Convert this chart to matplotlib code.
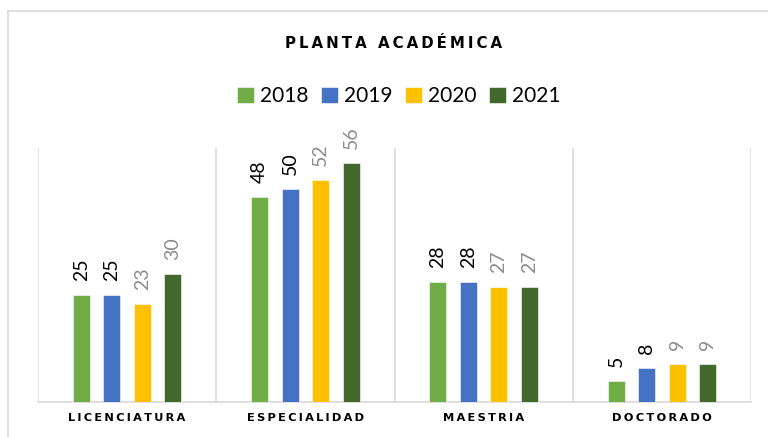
import matplotlib
matplotlib.use("Agg")
import matplotlib.pyplot as plt
import numpy as np
from matplotlib.patches import Rectangle

categories = ["LICENCIATURA", "ESPECIALIDAD", "MAESTRIA", "DOCTORADO"]
years = ["2018", "2019", "2020", "2021"]
v2018 = [25, 48, 28, 5]
v2019 = [25, 50, 28, 8]
v2020 = [23, 52, 27, 9]
v2021 = [30, 56, 27, 9]
series = [v2018, v2019, v2020, v2021]

COLORS = ["#70AD47", "#4472C4", "#FFC000", "#43682B"]
LABEL_COLORS = ["#000000", "#000000", "#8C8C8C", "#8C8C8C"]
GRID = "#D9D9D9"
FONT = "Lato"
THIN = "\u2009"


def spaced(s):
    # letter-spaced caps, like the original chart's tracking
    return (THIN + " " + THIN).join(THIN.join(w) for w in s.split(" "))


fig = plt.figure(figsize=(7.68, 4.37), dpi=100)
fig.patch.set_facecolor("white")
fig.add_artist(Rectangle((8 / 768, -0.1), 1.2, 1 - 11 / 437 + 0.1,
                         transform=fig.transFigure, fill=False,
                         edgecolor=GRID, linewidth=1.2))

ax = fig.add_axes([38 / 768, 1 - 402 / 437, (751 - 38) / 768, (402 - 148) / 437])
x = np.arange(len(categories))
width, step = 0.096, 0.171
for i, (vals, year) in enumerate(zip(series, years)):
    pos = x + (i - 1.5) * step
    bars = ax.bar(pos, vals, width, color=COLORS[i], label=year,
                  edgecolor="white", linewidth=0.4, zorder=3)
    for b, v in zip(bars, vals):
        ax.annotate(str(v), (b.get_x() + b.get_width() / 2, v),
                    xytext=(0, 14), textcoords="offset pixels",
                    rotation=90, ha="center", va="bottom",
                    fontsize=14, color=LABEL_COLORS[i], family=FONT)

ax.set_xlim(-0.5, 3.5)
ax.set_ylim(0, 59.5)
ax.set_yticks([])
ax.set_xticks(x)
ax.set_xticklabels([spaced(c) for c in categories], fontsize=8.2,
                   fontweight="bold", family="DejaVu Sans")
ax.tick_params(axis="x", length=0, pad=8)
for b in np.arange(-0.5, 4, 1):
    ax.axvline(b, color=GRID, linewidth=1.2, zorder=1)
for s in ["top", "left", "right"]:
    ax.spines[s].set_visible(False)
ax.spines["bottom"].set_color(GRID)
ax.spines["bottom"].set_linewidth(1.2)

fig.text(394 / 768, 1 - 43 / 437, spaced("PLANTA ACADÉMICA"), ha="center",
         va="center", fontsize=10.8, fontweight="bold", family="DejaVu Sans")

fig.legend(loc="center", bbox_to_anchor=(399 / 768, 1 - 96 / 437), ncol=4,
           frameon=False, prop={"family": FONT, "size": 15},
           handlelength=0.8, handleheight=0.8, handletextpad=0.3,
           columnspacing=0.6)

fig.savefig("out.png", dpi=100, facecolor="white")
